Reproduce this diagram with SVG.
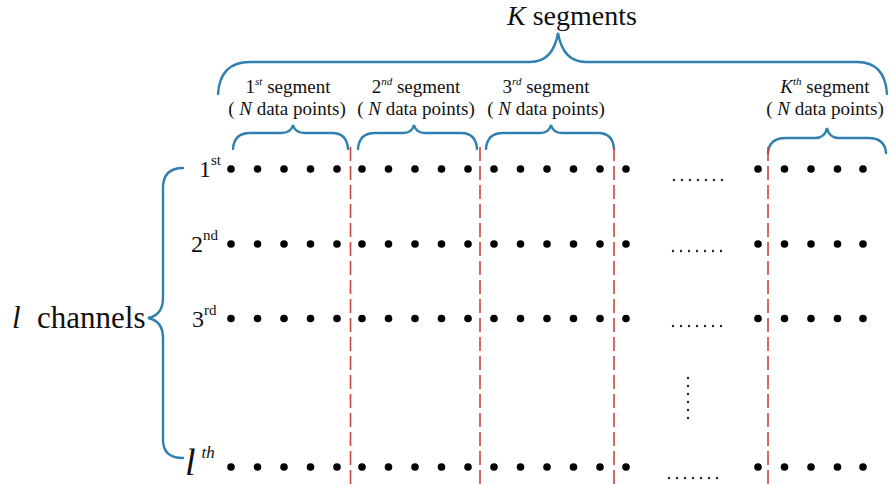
<svg xmlns="http://www.w3.org/2000/svg" width="890" height="486" viewBox="0 0 890 486">
  <style>
    text { font-family: "Liberation Serif", "Times New Roman", "DejaVu Serif", serif; fill: #111; }
    .it { font-style: italic; }
    .brace { fill: none; stroke: #2f7fb0; stroke-width: 2.4; stroke-linecap: round; }
    .split { stroke: #c9473f; stroke-width: 1.6; stroke-dasharray: 14 5; }
    .pt { fill: #000; }
    .tiny { fill: #222; }
  </style>
  <defs>
    <circle id="d" r="3.8" class="pt"/>
    <circle id="s" r="1.2" class="tiny"/>
    <!-- one row of samples: 5 + 5 + 5 + 1 on the left, 1 + 4 on the right -->
    <g id="row">
      <use href="#d" x="231"/><use href="#d" x="257.5"/><use href="#d" x="284"/><use href="#d" x="310.5"/><use href="#d" x="337"/>
      <use href="#d" x="362"/><use href="#d" x="388.5"/><use href="#d" x="415"/><use href="#d" x="441.5"/><use href="#d" x="468"/>
      <use href="#d" x="494"/><use href="#d" x="520.5"/><use href="#d" x="547"/><use href="#d" x="573.5"/><use href="#d" x="600"/>
      <use href="#d" x="626"/>
      <use href="#d" x="758"/><use href="#d" x="784.5"/><use href="#d" x="811"/><use href="#d" x="837.5"/><use href="#d" x="863"/>
    </g>
    <g id="hdots">
      <use href="#s" x="0"/><use href="#s" x="8"/><use href="#s" x="16"/><use href="#s" x="24"/><use href="#s" x="32"/><use href="#s" x="40"/><use href="#s" x="48"/>
    </g>
  </defs>

  <rect width="890" height="486" fill="#fff"/>

  <!-- K segments header -->
  <g id="k-segments">
    <text x="507" y="25" font-size="28"><tspan class="it">K</tspan> segments</text>
    <path class="brace" d="M218,94 Q220,62 250,62 L530,62 Q553,62 558,33 Q563,62 586,62 L857,62 Q885,62 887,94"/>
  </g>

  <!-- segment headers -->
  <g id="seg-1">
    <text x="288" y="93" font-size="19" text-anchor="middle">1<tspan class="it" font-size="11" dy="-8">st</tspan><tspan dy="8"> segment</tspan></text>
    <text x="287" y="115" font-size="19" text-anchor="middle">( <tspan class="it">N</tspan> data points)</text>
    <path class="brace" d="M233,149 Q234,133 250,133 L281,133 Q291,133 293,125 Q295,133 305,133 L332,133 Q347,133 348,149"/>
  </g>
  <g id="seg-2">
    <text x="416" y="93" font-size="19" text-anchor="middle">2<tspan class="it" font-size="11" dy="-8">nd</tspan><tspan dy="8"> segment</tspan></text>
    <text x="416" y="115" font-size="19" text-anchor="middle">( <tspan class="it">N</tspan> data points)</text>
    <path class="brace" d="M358,149 Q359,133 375,133 L403,133 Q412,133 414,125 Q416,133 425,133 L461,133 Q476,133 477,149"/>
  </g>
  <g id="seg-3">
    <text x="546" y="93" font-size="19" text-anchor="middle">3<tspan class="it" font-size="11" dy="-8">rd</tspan><tspan dy="8"> segment</tspan></text>
    <text x="546" y="115" font-size="19" text-anchor="middle">( <tspan class="it">N</tspan> data points)</text>
    <path class="brace" d="M486,149 Q487,133 503,133 L540,133 Q549,133 551,125 Q553,133 562,133 L598,133 Q613,133 614,149"/>
  </g>
  <g id="seg-k">
    <text x="825" y="93" font-size="19" text-anchor="middle"><tspan class="it">K</tspan><tspan class="it" font-size="11" dy="-8">th</tspan><tspan dy="8"> segment</tspan></text>
    <text x="825" y="115" font-size="19" text-anchor="middle">( <tspan class="it">N</tspan> data points)</text>
    <path class="brace" d="M768,153 Q769,138 786,138 L815,138 Q825,138 827,128 Q829,138 839,138 L868,138 Q885,138 886,153"/>
  </g>

  <!-- segment boundaries -->
  <g id="boundaries">
    <line class="split" x1="350.5" y1="147" x2="350.5" y2="486"/>
    <line class="split" x1="480" y1="147" x2="480" y2="486"/>
    <line class="split" x1="614" y1="147" x2="614" y2="486"/>
    <line class="split" x1="768" y1="147" x2="768" y2="486"/>
  </g>

  <!-- channels -->
  <g id="channels-label">
    <text x="12" y="328" font-size="31"><tspan class="it">l</tspan><tspan x="37">channels</tspan></text>
    <path class="brace" d="M183,168 Q163,168 163,188 L163,298 Q163,315 148,318 Q163,321 163,338 L163,440 Q163,458 183,458"/>
  </g>

  <g id="ch-1">
    <text x="199" y="177" font-size="24">1<tspan font-size="15" dy="-12">st</tspan></text>
    <use href="#row" y="169"/>
    <use href="#hdots" x="674" y="180"/>
  </g>
  <g id="ch-2">
    <text x="191" y="252" font-size="24">2<tspan font-size="15" dy="-12">nd</tspan></text>
    <use href="#row" y="244"/>
    <use href="#hdots" x="673" y="251"/>
  </g>
  <g id="ch-3">
    <text x="192" y="327" font-size="24">3<tspan font-size="15" dy="-12">rd</tspan></text>
    <use href="#row" y="318.5"/>
    <use href="#hdots" x="673" y="326"/>
  </g>
  <g id="ch-more">
    <use href="#s" x="688" y="378"/><use href="#s" x="688" y="386"/><use href="#s" x="688" y="394"/>
    <use href="#s" x="688" y="402"/><use href="#s" x="688" y="410"/><use href="#s" x="688" y="418"/>
  </g>
  <g id="ch-l">
    <text x="185" y="475" font-size="38" class="it">l<tspan font-size="17" dx="6" dy="-17">th</tspan></text>
    <use href="#row" y="467"/>
    <use href="#hdots" x="669" y="478"/>
  </g>
</svg>
